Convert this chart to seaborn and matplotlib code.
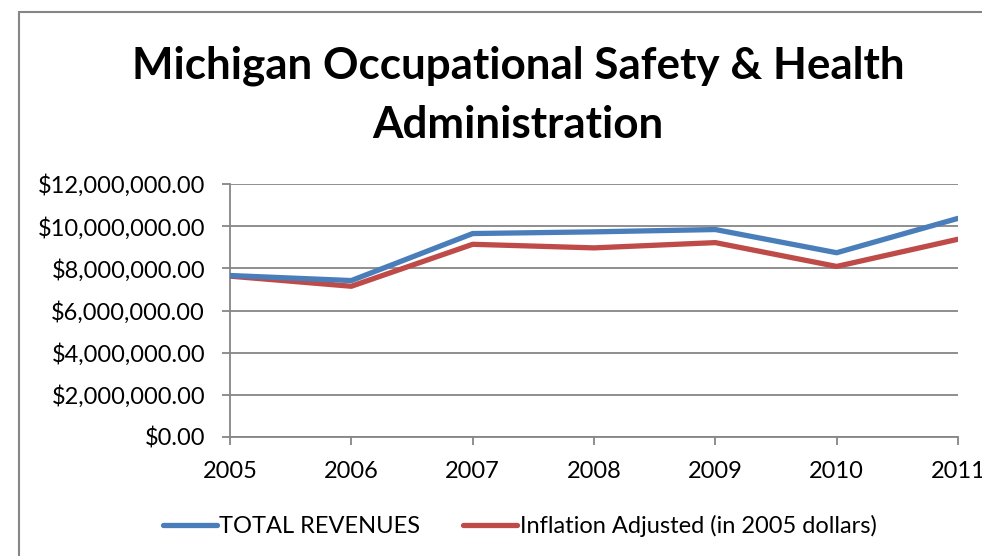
import pandas as pd
import matplotlib.pyplot as plt
import seaborn as sns
from matplotlib.lines import Line2D
from matplotlib.patches import Rectangle
from matplotlib.ticker import FuncFormatter, MultipleLocator

# data
years = [2005, 2006, 2007, 2008, 2009, 2010, 2011]
total_revenues = [7660000, 7420000, 9650000, 9730000, 9840000, 8740000, 10370000]
inflation_adjusted = [7630000, 7150000, 9140000, 8970000, 9220000, 8090000, 9380000]
series_names = ['TOTAL REVENUES', 'Inflation Adjusted (in 2005 dollars)']
series_colors = ['#4A7EBB', '#BE4B48']

df = pd.DataFrame({
    'Year': years * 2,
    'Value': total_revenues + inflation_adjusted,
    'Series': [series_names[0]] * len(years) + [series_names[1]] * len(years),
})

sns.set_style('white')
plt.rcParams['font.family'] = ['Lato', 'DejaVu Sans']
plt.rcParams['text.color'] = 'black'

fig = plt.figure(figsize=(9.82, 5.56), dpi=100)
ax = fig.add_axes([230 / 982, 1 - 437 / 556, 728 / 982, 253 / 556])

# chart frame
fig.patches.append(Rectangle((19 / 982, -0.5), 2, 0.5 + (1 - 12 / 556),
                             transform=fig.transFigure, fill=False,
                             edgecolor='#868686', linewidth=1.5))

sns.lineplot(data=df, x='Year', y='Value', hue='Series', palette=series_colors,
             linewidth=3.8, ax=ax, legend=False)
ax.lines[0].set_zorder(4)
ax.lines[1].set_zorder(3)

ax.set_xlim(2005, 2011)
ax.set_ylim(0, 12000000)
ax.yaxis.set_major_locator(MultipleLocator(2000000))
ax.set_xticks(years)
ax.yaxis.set_major_formatter(FuncFormatter(lambda v, p: f'${v:,.2f}'))
ax.grid(axis='y', color='#868686', linewidth=1.3)
ax.set_axisbelow(True)
ax.set_xlabel('')
ax.set_ylabel('')
for side in ['top', 'right']:
    ax.spines[side].set_visible(False)
for side in ['left', 'bottom']:
    ax.spines[side].set_color('#868686')
    ax.spines[side].set_linewidth(1.3)
ax.tick_params(axis='both', left=True, bottom=True, length=6, width=1.3,
               color='#868686', labelsize=17, labelcolor='black')
ax.tick_params(axis='y', pad=12)
ax.tick_params(axis='x', pad=11)

fig.text(0.528, 1 - 66 / 556, 'Michigan Occupational Safety & Health',
         ha='center', va='center', fontsize=31.7, fontweight='bold', color='black')
fig.text(0.527, 1 - 125 / 556, 'Administration',
         ha='center', va='center', fontsize=31.7, fontweight='bold', color='black')

handles = [Line2D([0], [0], color=c, linewidth=3.8) for c in series_colors]
fig.legend(handles, series_names, loc='center', bbox_to_anchor=(0.529, 1 - 526 / 556),
           ncol=2, frameon=False, fontsize=17, handlelength=2.3,
           handletextpad=0.1, columnspacing=1.8, labelcolor='black')

fig.savefig('out.png', dpi=100)
